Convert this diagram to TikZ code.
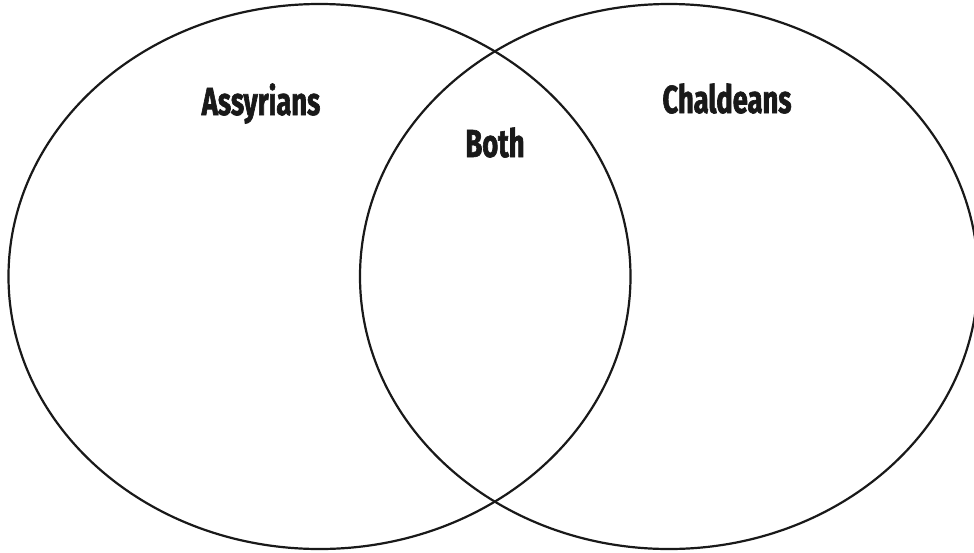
\documentclass[tikz,border=0pt]{standalone}
\usepackage{fontspec}
\newfontfamily\labelfont[FakeStretch=0.7,FakeBold=1.6]{Fira Sans}
\begin{document}
\begin{tikzpicture}[x=1pt,y=-1pt,
  circ/.style={draw=black!90,line width=2.2pt},
  lbl/.style={font=\labelfont\bfseries\fontsize{39}{41}\selectfont,text=black!90,inner sep=0pt,anchor=base}]
\path[use as bounding box] (0,0) rectangle (974,552);
\begin{scope}
\clip (0,0) rectangle (974,552);
\draw[circ] (319.5,276.5) ellipse [x radius=311, y radius=272.5];
\draw[circ] (669,276.5) ellipse [x radius=309, y radius=272.5];
\end{scope}
\node[lbl] (a) at (261,115) {Assyrians};
\node[lbl] (b) at (495,157) {Both};
\node[lbl] (c) at (727,113) {Chaldeans};
\end{tikzpicture}
\end{document}
